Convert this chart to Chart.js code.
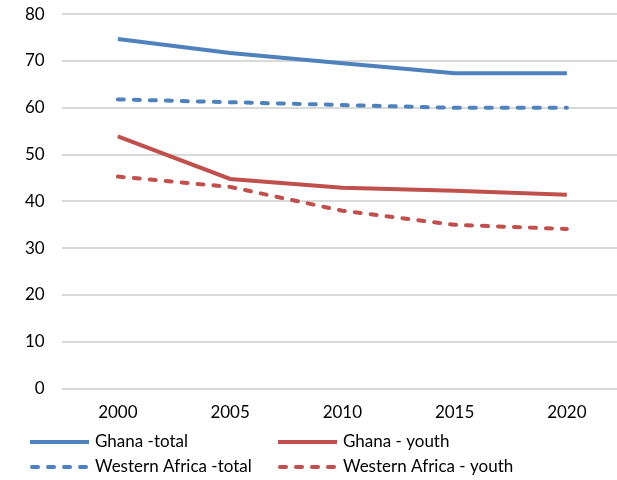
<!DOCTYPE html>
<html>
<head>
<meta charset="utf-8">
<script src="https://cdn.jsdelivr.net/npm/chart.js@4/dist/chart.umd.min.js"></script>
<style>
  html, body { margin: 0; padding: 0; background: #fff; }
  #wrap { width: 617px; height: 480px; position: relative; overflow: hidden; }
  #c { position: absolute; left: -4px; top: -13px; }
</style>
</head>
<body>
<div id="wrap"><canvas id="c" width="627" height="497"></canvas></div>
<script>
// Labour force participation, Ghana vs Western Africa (%)
const years = ['2000', '2005', '2010', '2015', '2020'];
const ghanaTotal = [74.7, 71.7, 69.5, 67.4, 67.4];
const westAfricaTotal = [61.8, 61.2, 60.6, 60.0, 60.0];
const ghanaYouth = [53.9, 44.8, 42.9, 42.3, 41.4];
const westAfricaYouth = [45.3, 43.1, 38.0, 35.0, 34.1];
const yTicks = { min: 0, max: 80, step: 10 };

const BLUE = '#4f81bd';
const RED = '#c0504d';
const FONT = 'Lato, "DejaVu Sans", sans-serif';
const SHIFT = { x: 4, y: 13 }; // canvas sits offset inside its wrapper

// Two-column legend drawn below the plot
const legendPlugin = {
  id: 'twoColLegend',
  afterDraw(chart) {
    const ctx = chart.ctx;
    const cols = [30, 278];
    const rows = [442, 467];
    ctx.save();
    chart.data.datasets.forEach((ds, k) => {
      const x = cols[k % 2] + SHIFT.x;
      const y = rows[Math.floor(k / 2)] + SHIFT.y;
      const dashed = ds.borderDash && ds.borderDash.length;
      ctx.strokeStyle = ds.borderColor;
      ctx.lineWidth = 4;
      ctx.lineCap = dashed ? 'round' : 'butt';
      ctx.setLineDash(ds.borderDash || []);
      ctx.beginPath();
      ctx.moveTo(x + (dashed ? 2 : 0), y);
      ctx.lineTo(x + 59, y);
      ctx.stroke();
      ctx.setLineDash([]);
      ctx.fillStyle = '#000';
      ctx.font = '17px ' + FONT;
      ctx.textBaseline = 'middle';
      ctx.textAlign = 'left';
      ctx.fillText(ds.label, x + 65, y);
    });
    ctx.restore();
  }
};

new Chart(document.getElementById('c'), {
  type: 'line',
  data: {
    labels: years,
    datasets: [
      { label: 'Ghana -total', data: ghanaTotal, borderColor: BLUE, borderWidth: 4 },
      { label: 'Ghana - youth', data: ghanaYouth, borderColor: RED, borderWidth: 4 },
      { label: 'Western Africa -total', data: westAfricaTotal, borderColor: BLUE, borderWidth: 4,
        borderDash: [6, 10], borderCapStyle: 'round' },
      { label: 'Western Africa - youth', data: westAfricaYouth, borderColor: RED, borderWidth: 4,
        borderDash: [6, 10], borderCapStyle: 'round' }
    ]
  },
  options: {
    responsive: false,
    animation: false,
    devicePixelRatio: 1,
    layout: { padding: { top: 0, right: 0, bottom: 47, left: 12 } },
    elements: { point: { radius: 0 }, line: { tension: 0 } },
    plugins: { legend: { display: false }, tooltip: { enabled: false } },
    scales: {
      x: {
        offset: true,
        grid: { display: false, drawTicks: false },
        border: { display: false },
        ticks: { color: '#000', font: { family: FONT, size: 17 }, padding: 14 }
      },
      y: {
        min: yTicks.min, max: yTicks.max,
        grid: { color: '#d9d9d9', lineWidth: 2, drawTicks: false },
        border: { display: false },
        ticks: { stepSize: yTicks.step, color: '#000', font: { family: FONT, size: 17 }, padding: 17 }
      }
    }
  },
  plugins: [legendPlugin]
});
</script>
</body>
</html>
